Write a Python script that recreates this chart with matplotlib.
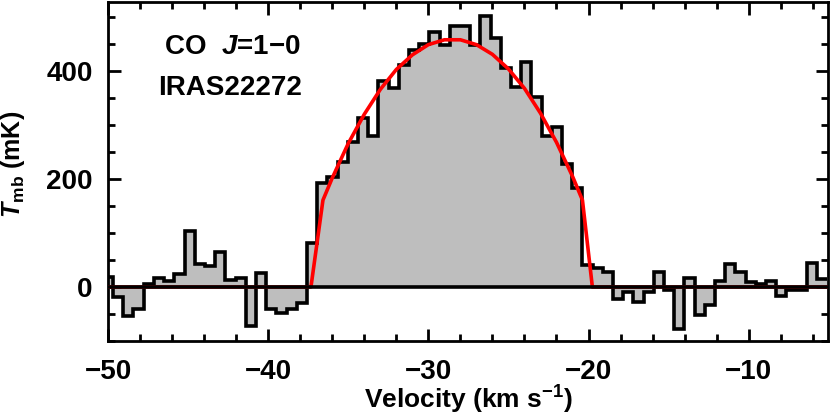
import numpy as np
import matplotlib.pyplot as plt
from matplotlib.ticker import MultipleLocator

# CO J=1-0 spectrum of IRAS22272, channel values in mK
v_first = -50.32   # left edge of first channel (km/s)
dv = 0.637         # channel width (km/s)
tmb = [18, -18, -54, -41, 5, 16, 12, 25, 104, 43,
       39, 65, 13, 17, -73, 26, -41, -49, -41, -30,
       81, 192, 204, 232, 269, 314, 280, 382, 368, 411,
       440, 451, 473, 448, 484, 484, 448, 502, 462, 405,
       370, 416, 352, 280, 297, 228, 183, 41, 35, 28,
       -23, -9, -27, -9, 28, -6, -77, 17, -52, -34,
       12, 42, 28, 9, 6, 12, -17, -6, -6, 45, 14]

# shell fit (red curve)
fit_v = [-50.0, -37.33, -36.58, -36, -35, -34, -33, -32, -31, -30, -29, -28,
         -27, -26, -25, -24, -23, -22, -21, -20.38, -19.76, -5.0]
fit_t = [0, 0, 161, 202, 266, 320, 366, 403, 430, 449, 458, 458,
         449, 431, 404, 368, 322, 268, 205, 161, 0, 0]

plt.rcParams['font.family'] = ['Liberation Sans', 'DejaVu Sans']
plt.rcParams['font.weight'] = 'bold'
plt.rcParams['axes.labelweight'] = 'bold'
plt.rcParams['mathtext.fontset'] = 'custom'
plt.rcParams['mathtext.rm'] = 'Liberation Sans:bold'
plt.rcParams['mathtext.it'] = 'Liberation Sans:italic:bold'
plt.rcParams['mathtext.bf'] = 'Liberation Sans:bold'

fs = 20

fig = plt.figure(figsize=(8.3, 4.17), dpi=100)
ax = fig.add_axes([108 / 830, 1 - 341 / 417, 720 / 830, 339 / 417])

edges = v_first + dv * np.arange(len(tmb) + 1)
ax.stairs(tmb, edges, baseline=0, fill=True, color='#bebebe', zorder=1)
ax.stairs(tmb, edges, baseline=None, color='black', lw=2.6, zorder=2)
ax.plot(fit_v, fit_t, color='red', lw=2.6, zorder=3)
ax.axhline(0, color='black', lw=2.6, zorder=4)

ax.set_xlim(-50, -5.05)
ax.set_ylim(-100, 528)

ax.xaxis.set_major_locator(MultipleLocator(10))
ax.xaxis.set_minor_locator(MultipleLocator(2))
ax.yaxis.set_major_locator(MultipleLocator(200))
ax.yaxis.set_minor_locator(MultipleLocator(50))
ax.tick_params(which='both', direction='in', top=True, right=True, width=2,
               labelsize=fs)
ax.tick_params(which='major', length=9)
ax.tick_params(which='minor', length=5)
ax.tick_params(axis='x', pad=13)
ax.tick_params(axis='y', pad=11)
for s in ax.spines.values():
    s.set_linewidth(2)

ax.set_xlabel('Velocity (km s$^{-1}$)', fontsize=19)
ax.set_ylabel('$T$$_{\\rm mb}$ (mK)', fontsize=18)
ax.xaxis.set_label_coords(0.5, -0.127)
ax.yaxis.set_label_coords(-0.112, 0.52)

ax.text(0.078, 0.867, 'CO  $J$=1\u22120', transform=ax.transAxes,
        fontsize=fs, va='center', ha='left')
ax.text(0.07, 0.745, 'IRAS22272', transform=ax.transAxes,
        fontsize=fs, va='center', ha='left')

fig.savefig('out.png', dpi=100)
